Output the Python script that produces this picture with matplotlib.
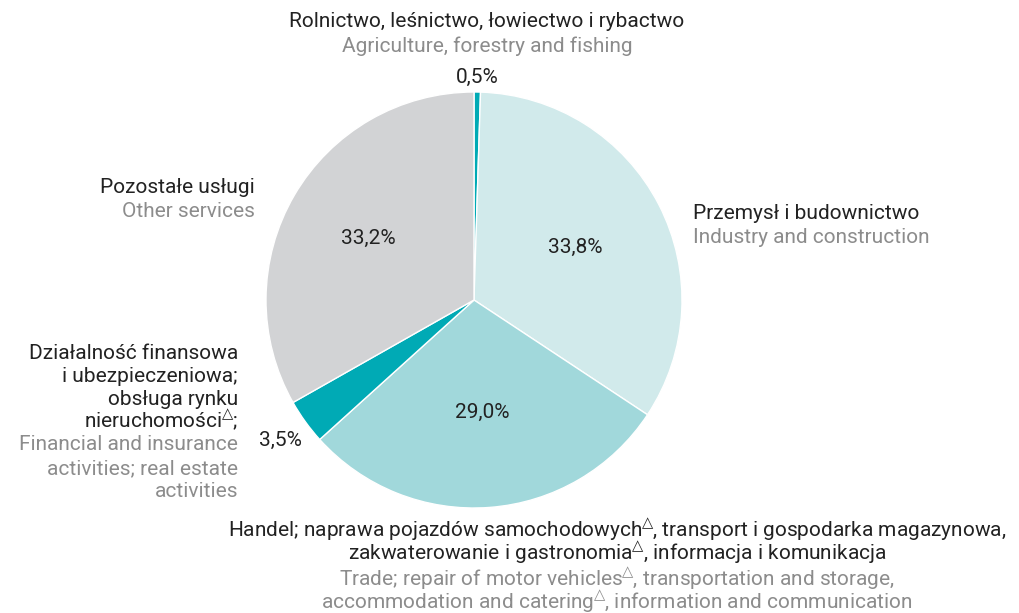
import numpy as np
import matplotlib
matplotlib.use('Agg')
import matplotlib.pyplot as plt

#-----------Data-------------

shares = [0.5, 33.8, 29.0, 3.5, 33.2]
pct_labels = ['0,5%', '33,8%', '29,0%', '3,5%', '33,2%']
colors = ['#00aab5', '#d1eaeb', '#a1d8db', '#00aab5', '#d2d3d5']
label_r = [1.07, 0.55, 0.54, 1.15, 0.59]

TRI = r'$\!^{\triangle}\!$'

lbl_pl = [
    ['Rolnictwo, leśnictwo, łowiectwo i rybactwo'],
    ['Przemysł i budownictwo'],
    ['Handel; naprawa pojazdów samochodowych' + TRI + ', transport i gospodarka magazynowa,',
     'zakwaterowanie i gastronomia' + TRI + ', informacja i komunikacja'],
    ['Działalność finansowa', 'i ubezpieczeniowa;', 'obsługa rynku', 'nieruchomości' + TRI + ';'],
    ['Pozostałe usługi'],
]
lbl_en = [
    ['Agriculture, forestry and fishing'],
    ['Industry and construction'],
    ['Trade; repair of motor vehicles' + TRI + ', transportation and storage,',
     'accommodation and catering' + TRI + ', information and communication'],
    ['Financial and insurance', 'activities; real estate', 'activities'],
    ['Other services'],
]

#-----------Figure-------------

plt.rcParams['font.family'] = ['Roboto', 'DejaVu Sans']
plt.rcParams['mathtext.fontset'] = 'dejavusans'
DARK = '#222222'
GREY = '#8c8c8c'
FS = 15

W, H = 1019, 613
fig = plt.figure(figsize=(W / 100, H / 100), dpi=100)

cx, cy, r = 474, 300, 208
ax = fig.add_axes([(cx - r) / W, (H - cy - r) / H, 2 * r / W, 2 * r / H])

wedges, _ = ax.pie(shares, colors=colors, startangle=90, counterclock=False,
                   radius=1, wedgeprops=dict(edgecolor='white', linewidth=1))
ax.set_xlim(-1, 1)
ax.set_ylim(-1, 1)
ax.set_aspect('equal')
ax.axis('off')

for w, txt, rr in zip(wedges, pct_labels, label_r):
    mid = np.radians((w.theta1 + w.theta2) / 2)
    ax.text(rr * np.cos(mid), rr * np.sin(mid), txt, ha='center', va='center',
            fontsize=FS, color=DARK)

#-----------Category labels-------------

def put_lines(lines, x, baselines, ha, color):
    for line, yb in zip(lines, baselines):
        fig.text(x / W, 1 - yb / H, line, ha=ha, va='baseline', fontsize=FS, color=color)

# agriculture (top)
put_lines(lbl_pl[0], 487, [27], 'center', DARK)
put_lines(lbl_en[0], 487, [52], 'center', GREY)

# industry (right)
put_lines(lbl_pl[1], 693, [219], 'left', DARK)
put_lines(lbl_en[1], 693, [243], 'left', GREY)

# other services (left top)
put_lines(lbl_pl[4], 255, [193], 'right', DARK)
put_lines(lbl_en[4], 255, [217], 'right', GREY)

# finance (left bottom)
put_lines(lbl_pl[3], 238, [359, 382, 405, 427], 'right', DARK)
put_lines(lbl_en[3], 238, [450, 474, 497], 'right', GREY)

# trade (bottom)
put_lines(lbl_pl[2], 617, [537, 560], 'center', DARK)
put_lines(lbl_en[2], 617, [586, 609], 'center', GREY)

fig.savefig('out.png', dpi=100)
